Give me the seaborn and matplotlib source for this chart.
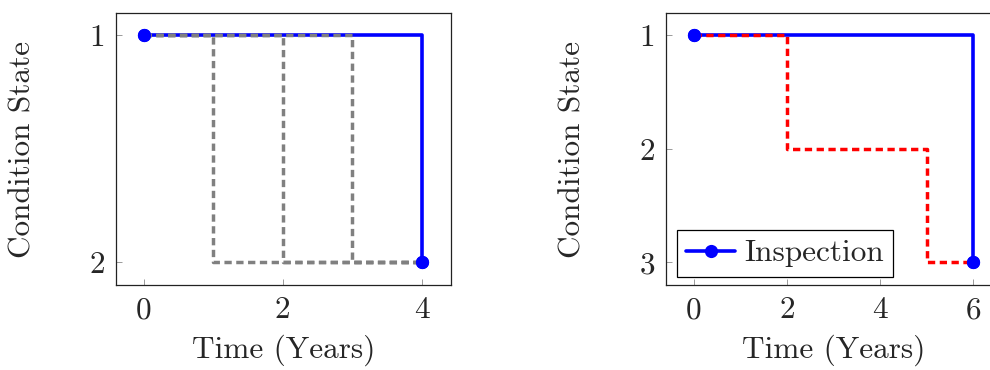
import matplotlib
matplotlib.use("Agg")
import matplotlib.pyplot as plt
import seaborn as sns
import pandas as pd

# ---- data ----
left_insp_t = [0, 4]
left_insp_s = [1, 2]
left_paths_t = [[0, 1, 4], [0, 2, 4], [0, 3, 4]]
left_paths_s = [[1, 2, 2], [1, 2, 2], [1, 2, 2]]

right_insp_t = [0, 6]
right_insp_s = [1, 3]
right_path_t = [0, 2, 5, 6]
right_path_s = [1, 2, 3, 3]

left_xticks = [0, 2, 4]
left_yticks = [1, 2]
right_xticks = [0, 2, 4, 6]
right_yticks = [1, 2, 3]

xlabel = "Time (Years)"
ylabel = "Condition State"
legend_label = "Inspection"

sns.set_theme(style="white")
plt.rcParams["font.family"] = ["cmr10", "DejaVu Serif"]
plt.rcParams["axes.unicode_minus"] = False
plt.rcParams["mathtext.fontset"] = "cm"

BLUE = "#0000ff"
GRAY = "#808080"
RED = "#ff0000"
FS = 22.5

fig = plt.figure(figsize=(9.9, 3.7), dpi=100)
W, H = 990, 370
ax1 = fig.add_axes([116 / W, (H - 285) / H, 335 / W, 272 / H])
ax2 = fig.add_axes([666 / W, (H - 285) / H, 335 / W, 272 / H])


def insp(ax, t, s, label=None):
    df = pd.DataFrame({"t": t, "s": s})
    sns.lineplot(data=df, x="t", y="s", ax=ax, color=BLUE, lw=2.6,
                 drawstyle="steps-post", estimator=None, sort=False,
                 marker="o", markersize=9.5, markeredgewidth=0, zorder=2,
                 label=label, legend=False)
    h = ax.lines[-1]
    sns.lineplot(data=df, x="t", y="s", ax=ax, color=BLUE, lw=0,
                 estimator=None, sort=False, marker="o", markersize=9.5,
                 markeredgewidth=0, zorder=5, legend=False)
    return h


def dashed(ax, t, s, color):
    df = pd.DataFrame({"t": t, "s": s})
    sns.lineplot(data=df, x="t", y="s", ax=ax, color=color, lw=2.5,
                 drawstyle="steps-post", estimator=None, sort=False,
                 linestyle=(0, (2.1, 1.3)), zorder=3, legend=False)


# left panel
insp(ax1, left_insp_t, left_insp_s)
for t, s in zip(left_paths_t, left_paths_s):
    dashed(ax1, t, s, GRAY)
ax1.set_xlim(-0.4, 4.42)
ax1.set_ylim(2.1, 0.903)
ax1.set_xticks(left_xticks)
ax1.set_yticks(left_yticks)

# right panel
h = insp(ax2, right_insp_t, right_insp_s, label=legend_label)
dashed(ax2, right_path_t, right_path_s, RED)
ax2.set_xlim(-0.6, 6.6)
ax2.set_ylim(3.2, 0.806)
ax2.set_xticks(right_xticks)
ax2.set_yticks(right_yticks)
leg = ax2.legend(handles=[h], labels=[legend_label], loc="lower left",
                 bbox_to_anchor=(0.033, 0.03), fontsize=FS, frameon=True,
                 fancybox=False, edgecolor="black", framealpha=1,
                 handlelength=1.55, borderpad=0.3, handletextpad=0.3,
                 borderaxespad=0)
leg.get_frame().set_linewidth(0.9)

for ax in (ax1, ax2):
    ax.set_xlabel(xlabel, fontsize=FS)
    ax.set_ylabel(ylabel, fontsize=FS)
    ax.xaxis.set_label_coords(0.5, -0.239)
    ax.xaxis.label.set_va("center")
    ax.yaxis.set_label_coords(-0.278, 0.5)
    ax.yaxis.label.set_va("center")
    ax.tick_params(axis="both", which="both", direction="in", length=4.5,
                   width=0.7, color="#9a9a9a", labelsize=FS, pad=8,
                   bottom=True, left=True, top=False, right=False)
    for sp in ax.spines.values():
        sp.set_color("#222222")
        sp.set_linewidth(0.9)

fig.savefig("out.png", dpi=100)
